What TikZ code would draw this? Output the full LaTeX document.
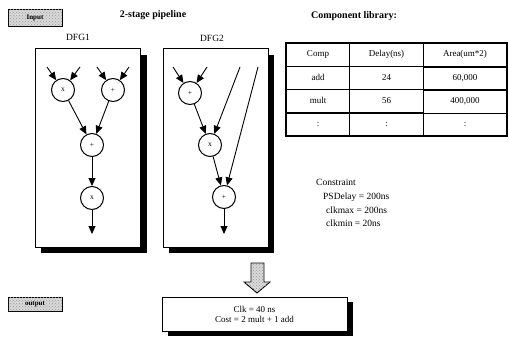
\documentclass[tikz,border=0pt]{standalone}
\usepackage{fontspec}
\setmainfont{Liberation Serif}
\usetikzlibrary{arrows.meta, positioning, matrix, patterns, calc}

\tikzset{
  op/.style={circle, draw, line width=1pt, fill=white, minimum size=23pt, inner sep=0pt, font=\fontsize{7.5}{8}\selectfont},
  flow/.style={line width=0.9pt, -{Triangle[length=8pt,width=7pt]}},
  panel/.style={draw, line width=0.9pt, fill=white},
  shad/.style={fill=black},
  btn/.style={draw, line width=0.9pt, fill=gray!30, postaction={pattern=crosshatch dots, pattern color=gray!80}},
  txt/.style={inner sep=0pt, font=\fontsize{9.5}{11}\selectfont},
  ttl/.style={inner sep=0pt, font=\fontsize{10}{11}\selectfont\bfseries}
}

\begin{document}
\begin{tikzpicture}[x=1pt, y=-1pt]
  \useasboundingbox (0,0) rectangle (509,353);

  % labels at the left
  \node[btn, minimum width=54pt, minimum height=17pt, inner sep=0pt, font=\fontsize{7}{8}\selectfont\bfseries] (inp) at (35,18) {Input};
  \node[btn, minimum width=54pt, minimum height=14pt, inner sep=0pt, font=\fontsize{7}{8}\selectfont\bfseries] (outp) at (35,304.5) {output};

  \node[ttl] (pipe) at (153,15) {2-stage pipeline};
  \node[ttl] (lib) at (354,16) {Component library:};

  % the two graphs
  \fill[shad] (41,55) rectangle (147,253);
  \draw[panel] (35,48) rectangle (140,247);
  \fill[shad] (169,55) rectangle (274,253);
  \draw[panel] (163,48) rectangle (268,247);
  \node[txt] (g1) at (78,37) {DFG1};
  \node[txt] (g2) at (212,38) {DFG2};

  \node[op] (a1) at (63,90) {x};
  \node[op] (a2) at (113,90) {+};
  \node[op] (a3) at (92,145) {+};
  \node[op] (a4) at (92,198) {x};
  \coordinate (i1) at (47,67);
  \coordinate (i2) at (80,67);
  \coordinate (i3) at (97,67);
  \coordinate (i4) at (129,67);
  \coordinate (o1) at (92,234);
  \draw[flow] (i1) -- (a1);
  \draw[flow] (i2) -- (a1);
  \draw[flow] (i3) -- (a2);
  \draw[flow] (i4) -- (a2);
  \draw[flow] (a1) -- (a3);
  \draw[flow] (a2) -- (a3);
  \draw[flow] (a3) -- (a4);
  \draw[flow] (a4) -- (o1);

  \node[op] (b1) at (190,93) {+};
  \node[op] (b2) at (210,145) {x};
  \node[op] (b3) at (224,197) {+};
  \coordinate (j1) at (173,67);
  \coordinate (j2) at (207,67);
  \coordinate (j3) at (240,67);
  \coordinate (j4) at (258,67);
  \coordinate (o2) at (224,234);
  \draw[flow] (j1) -- (b1);
  \draw[flow] (j2) -- (b1);
  \draw[flow] (b1) -- (b2);
  \draw[flow] (j3) -- (b2);
  \draw[flow] (b2) -- (b3);
  \draw[flow] (j4) -- (b3);
  \draw[flow] (b3) -- (o2);

  % component table
  \matrix[matrix of nodes, anchor=north west, inner sep=0pt, column sep=-0.6pt, row sep=-0.6pt,
    nodes={draw, line width=0.6pt, minimum height=22.6pt, inner sep=0pt, font=\fontsize{9}{10}\selectfont},
    column 1/.style={nodes={minimum width=63pt}},
    column 2/.style={nodes={minimum width=74pt}},
    column 3/.style={nodes={minimum width=83pt}}] (tab) at (286,43) {
    Comp & Delay(ns) & Area(um*2) \\
    add & 24 & 60,000 \\
    mult & 56 & 400,000 \\
    : & : & : \\
  };
  \draw[line width=1.4pt] (tab.north west) rectangle (tab.south east);

  % constraints
  \node[txt, anchor=west] (c0) at (316,182) {Constraint};
  \node[txt, anchor=west] (c1) at (323,197) {PSDelay = 200ns};
  \node[txt, anchor=west] (c2) at (326,210) {clkmax = 200ns};
  \node[txt, anchor=west] (c3) at (326,223) {clkmin = 20ns};

  % result
  \draw[btn] (251,263) -- (264,263) -- (264,282) -- (270,282) -- (257,293) -- (244,282) -- (251,282) -- cycle;
  \fill[shad] (168,302) rectangle (353,336);
  \node[panel, minimum width=185pt, minimum height=34pt, inner sep=0pt, align=center,
    font=\fontsize{9}{10}\selectfont] (res) at (254.5,314) {Clk = 40 ns\\Cost = 2 mult + 1 add};

\end{tikzpicture}
\end{document}
